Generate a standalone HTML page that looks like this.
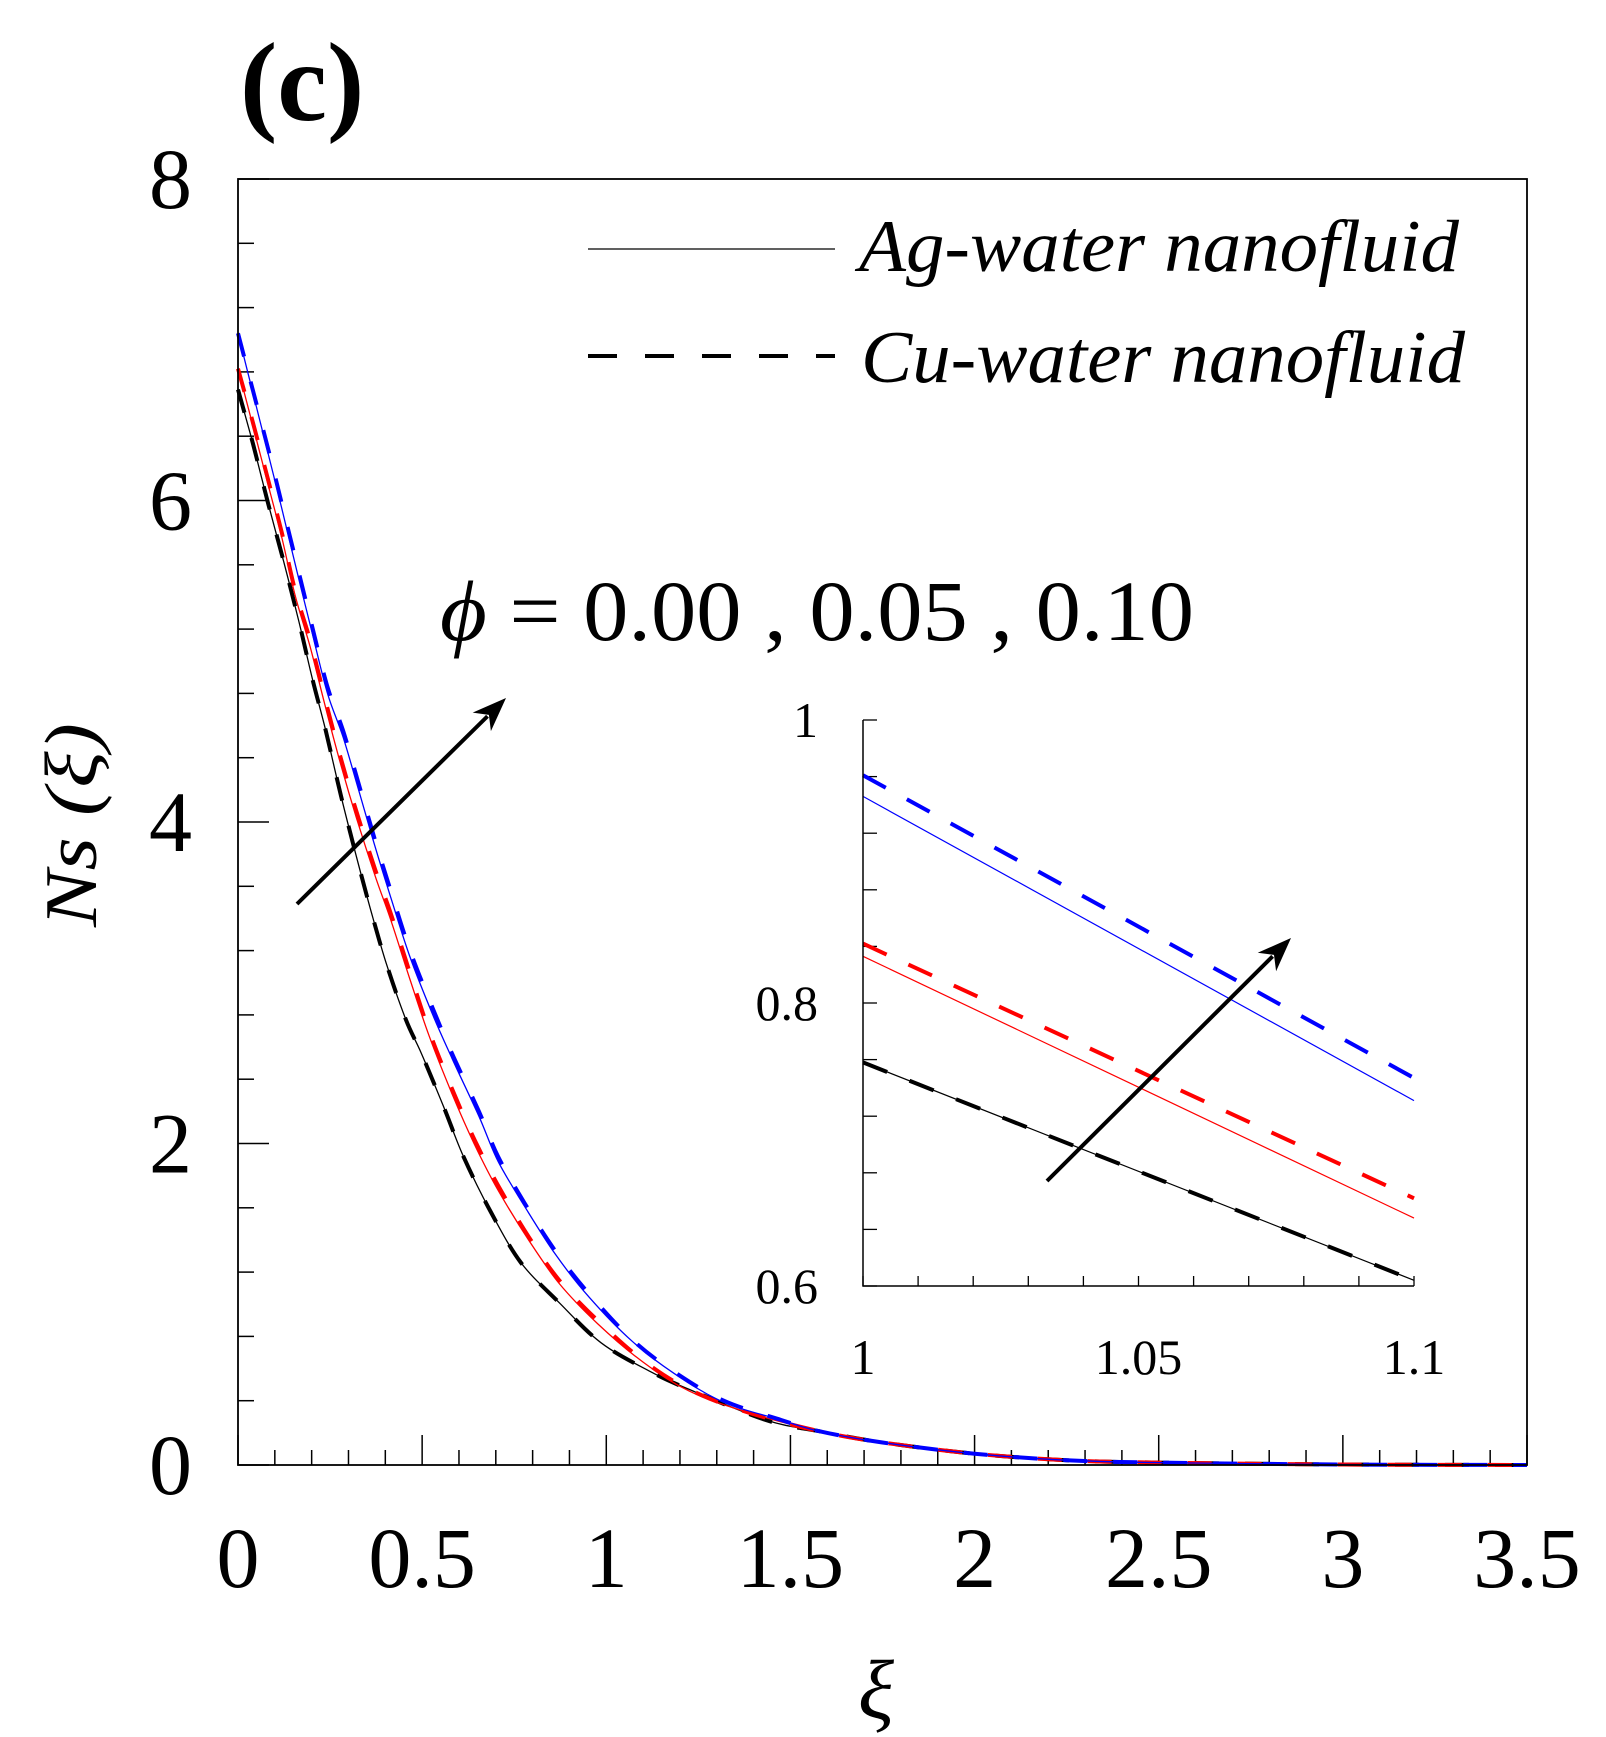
<!DOCTYPE html>
<html><head><meta charset="utf-8"><style>
html,body{margin:0;padding:0;background:#fff;}
svg{display:block;}
text{font-family:"Liberation Serif",serif;}
</style></head><body>
<svg id="chart" width="1606" height="1737" viewBox="0 0 1606 1737" xmlns="http://www.w3.org/2000/svg">
<rect x="0" y="0" width="1606" height="1737" fill="#fff"/>
<text x="240" y="120" font-size="112" font-weight="bold">(c)</text>
<g id="main"></g>
<g id="inset"></g>
<g>
  <line x1="588" y1="249" x2="835" y2="249" stroke="#000" stroke-width="1.3"/>
  <text x="859" y="271" font-size="74" font-style="italic" textLength="600" lengthAdjust="spacingAndGlyphs">Ag-water nanofluid</text>
  <line x1="588" y1="356" x2="835" y2="356" stroke="#000" stroke-width="4" stroke-dasharray="29 28"/>
  <text x="861" y="382" font-size="74" font-style="italic" textLength="604" lengthAdjust="spacingAndGlyphs">Cu-water nanofluid</text>
</g>
<text x="440" y="640" font-size="86" textLength="754" lengthAdjust="spacingAndGlyphs"><tspan font-style="italic">ϕ</tspan> = 0.00 , 0.05 , 0.10</text>
<text x="876" y="1718" font-size="84" font-style="italic" text-anchor="middle">ξ</text>
<text transform="translate(96,825) rotate(-90)" font-size="74" font-style="italic" text-anchor="middle" textLength="204" lengthAdjust="spacingAndGlyphs">Ns (ξ)</text>
</svg>
<script>
// ---- main chart data ----
const mainXTicks = [0, 0.5, 1, 1.5, 2, 2.5, 3, 3.5];
const mainXTickLabels = ["0", "0.5", "1", "1.5", "2", "2.5", "3", "3.5"];
const mainYTicks = [0, 2, 4, 6, 8];
const mainYTickLabels = ["0", "2", "4", "6", "8"];
const xiBlack = [0, 0.041, 0.082, 0.124, 0.165, 0.202, 0.238, 0.28, 0.321, 0.363, 0.404, 0.456, 0.498, 0.56, 0.612, 0.685, 0.768, 0.872, 0.986, 1.121, 1.225, 1.433, 1.578, 1.75, 2, 2.25, 2.5, 3, 3.5];
const nsBlack = [6.69, 6.35, 5.98, 5.62, 5.25, 4.89, 4.57, 4.16, 3.79, 3.43, 3.11, 2.77, 2.56, 2.22, 1.92, 1.58, 1.26, 1.01, 0.76, 0.58, 0.47, 0.28, 0.21, 0.14, 0.07, 0.03, 0.015, 0.003, 0];
const xiRed = [0, 0.041, 0.077, 0.119, 0.155, 0.197, 0.238, 0.28, 0.321, 0.373, 0.415, 0.467, 0.519, 0.581, 0.643, 0.706, 0.789, 0.872, 0.976, 1.1, 1.225, 1.381, 1.578, 1.75, 2, 2.25, 2.5, 3, 3.5];
const nsRedCu = [6.82, 6.48, 6.17, 5.8, 5.44, 5.12, 4.75, 4.39, 4.07, 3.7, 3.43, 3.06, 2.7, 2.34, 2.02, 1.74, 1.42, 1.15, 0.9, 0.65, 0.47, 0.33, 0.21, 0.14, 0.07, 0.03, 0.015, 0.003, 0];
const nsRedAg = [6.82, 6.46, 6.14, 5.77, 5.41, 5.08, 4.71, 4.35, 4.03, 3.66, 3.39, 3.02, 2.67, 2.31, 1.99, 1.71, 1.40, 1.13, 0.88, 0.64, 0.46, 0.33, 0.21, 0.14, 0.07, 0.03, 0.015, 0.003, 0];
const xiBlue = [0, 0.082, 0.119, 0.16, 0.202, 0.243, 0.285, 0.326, 0.373, 0.415, 0.467, 0.529, 0.581, 0.654, 0.706, 0.778, 0.862, 0.955, 1.07, 1.184, 1.319, 1.475, 1.578, 1.75, 2, 2.25, 2.5, 3, 3.5];
const nsBlueCu = [7.04, 6.32, 5.98, 5.6, 5.21, 4.84, 4.57, 4.25, 3.88, 3.57, 3.2, 2.84, 2.56, 2.2, 1.92, 1.63, 1.33, 1.06, 0.78, 0.58, 0.4, 0.28, 0.21, 0.14, 0.07, 0.03, 0.015, 0.003, 0];
const nsBlueAg = [7.04, 6.29, 5.95, 5.56, 5.17, 4.80, 4.53, 4.21, 3.84, 3.53, 3.16, 2.80, 2.53, 2.17, 1.89, 1.61, 1.31, 1.04, 0.77, 0.57, 0.39, 0.28, 0.21, 0.14, 0.07, 0.03, 0.015, 0.003, 0];

// ---- inset data ----
const insetXTicks = [1, 1.05, 1.1];
const insetXTickLabels = ["1", "1.05", "1.1"];
const insetYTicks = [0.6, 0.8, 1];
const insetYTickLabels = ["0.6", "0.8", "1"];
const insetXi = [1, 1.1];
const insetBlueCu = [0.961, 0.747];
const insetBlueAg = [0.946, 0.731];
const insetRedCu = [0.842, 0.662];
const insetRedAg = [0.833, 0.648];
const insetBlackCu = [0.758, 0.604];
const insetBlackAg = [0.758, 0.604];

const NS = "http://www.w3.org/2000/svg";
function mk(tag, attrs, parent) {
  const e = document.createElementNS(NS, tag);
  for (const k in attrs) e.setAttribute(k, attrs[k]);
  parent.appendChild(e);
  return e;
}

const M = {l: 238, r: 1527, t: 179, b: 1465, x0: 0, x1: 3.5, y0: 0, y1: 8};
const mx = v => M.l + (v - M.x0) / (M.x1 - M.x0) * (M.r - M.l);
const my = v => M.b - (v - M.y0) / (M.y1 - M.y0) * (M.b - M.t);
const gm = document.getElementById('main');

function path(xs, ys, fx, fy) {
  return xs.map((x, i) => (i ? 'L' : 'M') + fx(x).toFixed(1) + ',' + fy(ys[i]).toFixed(1)).join(' ');
}
function smoothPath(xs, ys, fx, fy) {
  const P = xs.map((x, i) => [fx(x), fy(ys[i])]);
  let d = 'M' + P[0][0].toFixed(1) + ',' + P[0][1].toFixed(1);
  for (let i = 0; i < P.length - 1; i++) {
    const p0 = P[Math.max(0, i - 1)], p1 = P[i], p2 = P[i + 1], p3 = P[Math.min(P.length - 1, i + 2)];
    const c1x = p1[0] + (p2[0] - p0[0]) / 6, c1y = p1[1] + (p2[1] - p0[1]) / 6;
    const c2x = p2[0] - (p3[0] - p1[0]) / 6, c2y = p2[1] - (p3[1] - p1[1]) / 6;
    d += ' C' + c1x.toFixed(1) + ',' + c1y.toFixed(1) + ' ' + c2x.toFixed(1) + ',' + c2y.toFixed(1) + ' ' + p2[0].toFixed(1) + ',' + p2[1].toFixed(1);
  }
  return d;
}

for (let k = 0; k <= 35; k++) {
  const v = k * 0.1; const major = k % 5 === 0;
  const t = mk('line', {x1: mx(v), x2: mx(v), y1: M.b, y2: M.b - (major ? 30 : 15), stroke: '#000', 'stroke-width': 1.5}, gm);
  
  
}
for (let k = 0; k <= 20; k++) {
  const v = k * 0.4; const major = k % 5 === 0;
  const t = mk('line', {x1: M.l, x2: M.l + (major ? 31 : 16), y1: my(v), y2: my(v), stroke: '#000', 'stroke-width': 1.5}, gm);
  
  
}
mainXTicks.forEach((v, i) => {
  const t = mk('text', {x: mx(v), y: 1587, 'font-size': 86, 'text-anchor': 'middle'}, gm);
  t.textContent = mainXTickLabels[i];
  
  
});
mainYTicks.forEach((v, i) => {
  const t = mk('text', {x: 192, y: my(v) + 29, 'font-size': 86, 'text-anchor': 'end'}, gm);
  t.textContent = mainYTickLabels[i];
  
  
});

const mainSeries = [
  {xs: xiBlack, ys: nsBlack, c: '#000', d: false, n: 'ag-phi-000-line'},
  {xs: xiBlack, ys: nsBlack, c: '#000', d: true, n: 'cu-phi-000-line'},
  {xs: xiRed, ys: nsRedAg, c: '#f00', d: false, n: 'ag-phi-005-line'},
  {xs: xiRed, ys: nsRedCu, c: '#f00', d: true, n: 'cu-phi-005-line'},
  {xs: xiBlue, ys: nsBlueAg, c: '#00f', d: false, n: 'ag-phi-010-line'},
  {xs: xiBlue, ys: nsBlueCu, c: '#00f', d: true, n: 'cu-phi-010-line'}
];
mainSeries.forEach(s => {
  const p = mk('path', {d: smoothPath(s.xs, s.ys, mx, my), fill: 'none', stroke: s.c, 'stroke-width': s.d ? 4 : 1.3, 'stroke-dasharray': s.d ? '24 26' : 'none'}, gm);
  
  
});
const frame = mk('rect', {x: M.l, y: M.t, width: M.r - M.l, height: M.b - M.t, fill: 'none', stroke: '#000', 'stroke-width': 1.8}, gm);



function arrow(x1, y1, x2, y2, name, parent) {
  const ang = Math.atan2(y2 - y1, x2 - x1), L = 34, W = 13;
  const bx = x2 - L * Math.cos(ang), by = y2 - L * Math.sin(ang);
  const g = mk('g', {}, parent);
  
  
  mk('line', {x1: x1, y1: y1, x2: bx + 8 * Math.cos(ang), y2: by + 8 * Math.sin(ang), stroke: '#000', 'stroke-width': 4}, g);
  const px = -Math.sin(ang), py = Math.cos(ang);
  mk('polygon', {points: `${x2},${y2} ${bx + W * px},${by + W * py} ${bx + 10 * Math.cos(ang)},${by + 10 * Math.sin(ang)} ${bx - W * px},${by - W * py}`, fill: '#000'}, g);
}
arrow(297, 904, 506, 698, 'main-trend-arrow', gm);

const I = {l: 863, r: 1414, t: 720, b: 1286, x0: 1, x1: 1.1, y0: 0.6, y1: 1};
const ix = v => I.l + (v - I.x0) / (I.x1 - I.x0) * (I.r - I.l);
const iy = v => I.b - (v - I.y0) / (I.y1 - I.y0) * (I.b - I.t);
const gi = document.getElementById('inset');
for (let k = 0; k <= 10; k++) {
  const t = mk('line', {x1: ix(1 + k * 0.01), x2: ix(1 + k * 0.01), y1: I.b, y2: I.b - 10, stroke: '#000', 'stroke-width': 1.3}, gi);
  
  
  const u = mk('line', {x1: I.l, x2: I.l + 14, y1: iy(0.6 + k * 0.04), y2: iy(0.6 + k * 0.04), stroke: '#000', 'stroke-width': 1.3}, gi);
  
  
}
insetXTicks.forEach((v, i) => {
  const t = mk('text', {x: ix(v), y: 1374, 'font-size': 50, 'text-anchor': 'middle'}, gi);
  t.textContent = insetXTickLabels[i];
  
  
});
insetYTicks.forEach((v, i) => {
  const t = mk('text', {x: 818, y: iy(v) + 17, 'font-size': 50, 'text-anchor': 'end'}, gi);
  t.textContent = insetYTickLabels[i];
  
  
});
const insetSeries = [
  {ys: insetBlackAg, c: '#000', d: false, n: 'inset-ag-phi-000-line'},
  {ys: insetBlackCu, c: '#000', d: true, n: 'inset-cu-phi-000-line'},
  {ys: insetRedAg, c: '#f00', d: false, n: 'inset-ag-phi-005-line'},
  {ys: insetRedCu, c: '#f00', d: true, n: 'inset-cu-phi-005-line'},
  {ys: insetBlueAg, c: '#00f', d: false, n: 'inset-ag-phi-010-line'},
  {ys: insetBlueCu, c: '#00f', d: true, n: 'inset-cu-phi-010-line'}
];
insetSeries.forEach(s => {
  const p = mk('path', {d: path(insetXi, s.ys, ix, iy), fill: 'none', stroke: s.c, 'stroke-width': s.d ? 4 : 1.2, 'stroke-dasharray': s.d ? '26 24' : 'none'}, gi);
  
  
});
const ia = mk('path', {d: `M${I.l},${I.t} L${I.l},${I.b} L${I.r},${I.b}`, fill: 'none', stroke: '#000', 'stroke-width': 1.5}, gi);


arrow(1047, 1181, 1291, 938, 'inset-trend-arrow', gi);
</script>
</body></html>
